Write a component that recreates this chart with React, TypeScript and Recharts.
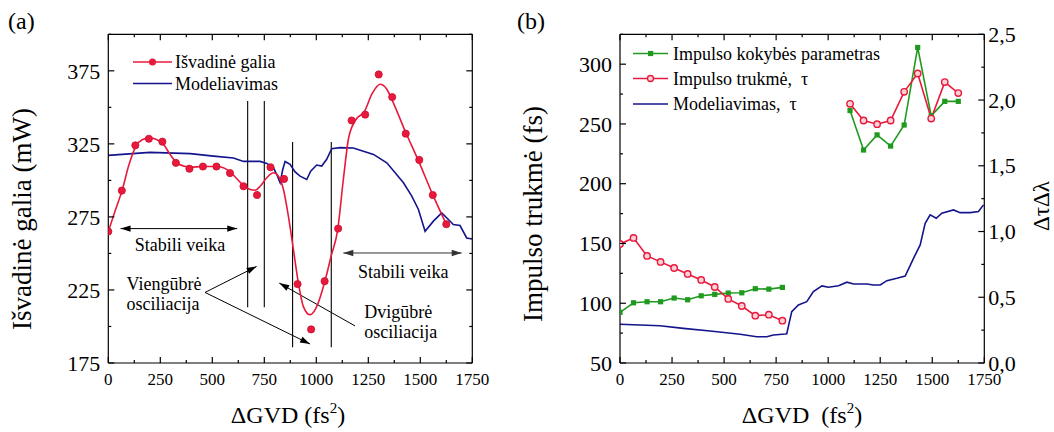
import React from 'react';
import { LineChart, Line, XAxis, YAxis, ReferenceLine, ReferenceDot } from 'recharts';

const FONT = '"Liberation Serif", "Times New Roman", Times, serif';
const RED = '#e8193c';
const BLUE = '#14148c';
const GREEN = '#1f9a1f';

// ---------- Panel (a) ----------
const gvdMeasured = [0, 65, 130, 195, 260, 325, 390, 455, 520, 585, 650, 715, 780, 845, 910, 975, 1040, 1105, 1170, 1235, 1300, 1365, 1430, 1495, 1560, 1625];
const powerMeasured = [265, 293, 324, 328.5, 326.5, 312, 308, 309.5, 309.5, 305, 296, 290, 309, 301, 229, 198, 231, 267, 341, 345, 372.5, 357, 332, 314, 290, 270];

const gvdFit = [0, 35, 66, 100, 133, 165, 200, 232, 265, 297, 330, 362, 394, 455, 520, 553, 585, 617, 650, 682, 706, 730, 762, 794, 818, 842, 866, 890, 914, 938, 970, 1002, 1039, 1071, 1103, 1130, 1154, 1186, 1233, 1267, 1307, 1339, 1363, 1427, 1492, 1556, 1622];
const powerFit = [265, 280, 293, 311, 323.5, 328, 329.2, 328, 324.7, 317.8, 312, 309.8, 309, 309.5, 309.5, 308.6, 305.9, 301.3, 296.5, 293.8, 293.3, 296, 301.8, 305.2, 302.9, 293.8, 275.4, 252.6, 229.7, 213.6, 208, 213.6, 229.7, 248, 266.3, 300.6, 328, 340.7, 347.5, 359, 365.8, 362.4, 355.5, 333.8, 313.2, 291.5, 270.9];

const gvdModelA = [0, 200, 394, 506, 602, 650, 730, 762, 794, 810, 826, 839, 850, 874, 898, 922, 954, 973, 1002, 1026, 1050, 1074, 1114, 1178, 1275, 1339, 1419, 1459, 1491, 1523, 1563, 1603, 1635, 1659, 1691, 1723, 1750];
const powerModelA = [317.1, 319.2, 318.3, 316.6, 315.3, 313, 313, 311.6, 308.6, 304, 298.4, 307.6, 312.9, 311, 305.8, 302.9, 300.6, 306.3, 310.5, 309.8, 314.4, 321.7, 322.4, 322.2, 317.8, 312, 298.4, 289.2, 280.1, 265.2, 272.1, 277.8, 273.2, 269.8, 269.1, 260.6, 259.9];

// ---------- Panel (b) ----------
const gvdShort = [0, 65, 130, 195, 260, 325, 390, 455, 520, 585, 650, 715, 780];
const gvdLong = [1105, 1170, 1235, 1300, 1365, 1430, 1495, 1560, 1625];
const qualityShort = [0.385, 0.458, 0.466, 0.466, 0.494, 0.481, 0.511, 0.522, 0.532, 0.534, 0.565, 0.562, 0.575];
const qualityLong = [1.92, 1.62, 1.735, 1.65, 1.81, 2.4, 1.88, 1.99, 1.99];
const durationShort = [149.6, 154.6, 139.6, 134.6, 129.5, 124.5, 119.5, 113.6, 103.6, 97.7, 89.6, 90.4, 85.4];
const durationLong = [266.8, 252.9, 249.8, 252.9, 276.9, 292.2, 254.5, 285, 275.8];
const gvdModelB = [0, 192, 304, 433, 577, 657, 705, 737, 793, 801, 825, 857, 897, 929, 970, 1001, 1050, 1090, 1122, 1186, 1218, 1250, 1282, 1330, 1370, 1410, 1442, 1466, 1490, 1519, 1546, 1602, 1634, 1682, 1722, 1746];
const durationModelB = [82.4, 81.2, 79, 76.8, 74, 72, 72, 73.4, 74.3, 74.5, 93, 98.6, 101.3, 109.7, 114.5, 113.4, 114.7, 117.6, 116.1, 116.1, 115.3, 115.3, 118.9, 120.9, 122.8, 137.6, 148.8, 166.9, 173.9, 171.1, 175.3, 178.1, 175.8, 175.8, 176.7, 182.3];

// ---------- ticks ----------
const xTicks = [0, 125, 250, 375, 500, 625, 750, 875, 1000, 1125, 1250, 1375, 1500, 1625, 1750];
const yTicksA = [175, 200, 225, 250, 275, 300, 325, 350, 375, 400];
const yTicksB = [50, 75, 100, 125, 150, 175, 200, 225, 250, 275, 300, 325];
const yTicksBR = [0, 0.25, 0.5, 0.75, 1, 1.25, 1.5, 1.75, 2, 2.25, 2.5];

const zip = (xs: number[], ys: number[]) => xs.map((x, i) => ({ x, y: ys[i] }));

type Side = 'left' | 'right' | 'top' | 'bottom';
function makeTick(side: Side, step: number, origin: number, fontSize: number, gap: number, fmt?: (v: number) => string) {
  return (props: any) => {
    const { x, y, payload } = props;
    const v = Number(payload.value);
    const k = (v - origin) / step;
    const major = Math.abs(k - Math.round(k)) < 1e-6;
    const len = major ? 6 : 3;
    const s = { stroke: '#000', strokeWidth: 1.2 };
    let line: any = null;
    let label: any = null;
    const tp = { fontFamily: FONT, fontSize, fill: '#000' };
    if (side === 'left') {
      line = <line x1={x} y1={y} x2={x + len} y2={y} {...s} />;
      if (major && fmt) label = <text x={x - gap} y={y} dy="0.35em" textAnchor="end" {...tp}>{fmt(v)}</text>;
    } else if (side === 'right') {
      line = <line x1={x} y1={y} x2={x - len} y2={y} {...s} />;
      if (major && fmt) label = <text x={x + gap} y={y} dy="0.35em" textAnchor="start" {...tp}>{fmt(v)}</text>;
    } else if (side === 'bottom') {
      line = <line x1={x} y1={y} x2={x} y2={y - len} {...s} />;
      if (major && fmt) label = <text x={x} y={y + gap} dy="0.71em" textAnchor="middle" {...tp}>{fmt(v)}</text>;
    } else {
      line = <line x1={x} y1={y} x2={x} y2={y + len} {...s} />;
    }
    return <g>{line}{label}</g>;
  };
}

const arrowShape = (both: boolean, color = '#000') => (p: any) => {
  const { x1, y1, x2, y2 } = p;
  const a = Math.atan2(y2 - y1, x2 - x1);
  const head = (hx: number, hy: number, ang: number) => {
    const L = 10, W = 3.2;
    const bx = hx - L * Math.cos(ang), by = hy - L * Math.sin(ang);
    const px = -Math.sin(ang) * W, py = Math.cos(ang) * W;
    return <polygon points={`${hx},${hy} ${bx + px},${by + py} ${bx - px},${by - py}`} fill={color} />;
  };
  return (
    <g>
      <line x1={x1} y1={y1} x2={x2} y2={y2} stroke={color} strokeWidth={1} />
      {head(x2, y2, a)}
      {both ? head(x1, y1, a + Math.PI) : null}
    </g>
  );
};

const textShape = (txt: string, anchor: 'start' | 'middle' | 'end', size = 18) => (p: any) => (
  <text x={p.cx} y={p.cy} textAnchor={anchor} fontFamily={FONT} fontSize={size} fill="#000">{txt}</text>
);

const axisLine = { stroke: '#000', strokeWidth: 1.2 };
const fmtInt = (v: number) => String(v);
const fmtComma = (v: number) => v.toFixed(1).replace('.', ',');

function PanelA() {
  return (
    <LineChart width={520} height={432} margin={{ top: 0, right: 0, bottom: 0, left: 0 }}>
      <XAxis xAxisId={0} type="number" dataKey="x" domain={[0, 1750]} ticks={xTicks} interval={0} allowDataOverflow
        tickLine={false} tickSize={0} tickMargin={0} height={69} axisLine={axisLine}
        tick={makeTick('bottom', 250, 0, 17, 10, fmtInt)} />
      <XAxis xAxisId="top" orientation="top" type="number" dataKey="x" domain={[0, 1750]} ticks={xTicks} interval={0} allowDataOverflow
        tickLine={false} tickSize={0} tickMargin={0} height={34.3} axisLine={axisLine}
        tick={makeTick('top', 250, 0, 17, 0)} />
      <YAxis yAxisId={0} type="number" domain={[175, 400]} ticks={yTicksA} interval={0} allowDataOverflow
        tickLine={false} tickSize={0} tickMargin={0} width={108.3} axisLine={axisLine}
        tick={makeTick('left', 50, 175, 22, 8, fmtInt)} />
      <YAxis yAxisId="r" orientation="right" type="number" domain={[175, 400]} ticks={yTicksA} interval={0} allowDataOverflow
        tickLine={false} tickSize={0} tickMargin={0} width={47.7} axisLine={axisLine}
        tick={makeTick('right', 50, 175, 22, 8)} />

      <ReferenceLine segment={[{ x: 670, y: 354.4 }, { x: 670, y: 213.2 }]} stroke="#000" strokeWidth={1.1} />
      <ReferenceLine segment={[{ x: 750, y: 354.4 }, { x: 750, y: 213.2 }]} stroke="#000" strokeWidth={1.1} />
      <ReferenceLine segment={[{ x: 886, y: 326.2 }, { x: 886, y: 185.8 }]} stroke="#000" strokeWidth={1.1} />
      <ReferenceLine segment={[{ x: 1072, y: 326.2 }, { x: 1072, y: 185.8 }]} stroke="#000" strokeWidth={1.1} />

      <ReferenceLine segment={[{ x: 59, y: 267 }, { x: 620, y: 267 }]} shape={arrowShape(true)} />
      <ReferenceLine segment={[{ x: 1130, y: 250.3 }, { x: 1699, y: 250.3 }]} shape={arrowShape(true, '#333')} />
      <ReferenceLine segment={[{ x: 465, y: 223.3 }, { x: 713, y: 241.1 }]} shape={arrowShape(false)} />
      <ReferenceLine segment={[{ x: 465, y: 223.3 }, { x: 970, y: 188 }]} shape={arrowShape(false)} />
      <ReferenceLine segment={[{ x: 1186, y: 200.4 }, { x: 822, y: 229.7 }]} shape={arrowShape(false)} />

      <ReferenceDot x={345} y={251.4} r={1} shape={textShape('Stabili veika', 'middle')} />
      <ReferenceDot x={1418} y={233} r={1} shape={textShape('Stabili veika', 'middle')} />
      <ReferenceDot x={88} y={225} r={1} shape={textShape('Viengūbrė', 'start')} />
      <ReferenceDot x={88} y={211.4} r={1} shape={textShape('osciliacija', 'start')} />
      <ReferenceDot x={1231} y={205.7} r={1} shape={textShape('Dvigūbrė', 'start')} />
      <ReferenceDot x={1231} y={192} r={1} shape={textShape('osciliacija', 'start')} />

      <Line data={zip(gvdModelA, powerModelA)} dataKey="y" type="linear" stroke={BLUE} strokeWidth={1.6} dot={false} isAnimationActive={false} />
      <Line data={zip(gvdFit, powerFit)} dataKey="y" type="monotone" stroke={RED} strokeWidth={1.6} dot={false} isAnimationActive={false} />
      <Line data={zip(gvdMeasured, powerMeasured)} dataKey="y" stroke="none" isAnimationActive={false}
        dot={{ r: 3.6, fill: RED, stroke: '#c8102e', strokeWidth: 0.8 }} />
    </LineChart>
  );
}

function PanelB() {
  return (
    <LineChart width={534} height={432} margin={{ top: 0, right: 0, bottom: 0, left: 0 }}>
      <XAxis xAxisId={0} type="number" dataKey="x" domain={[0, 1750]} ticks={xTicks} interval={0} allowDataOverflow
        tickLine={false} tickSize={0} tickMargin={0} height={69} axisLine={axisLine}
        tick={makeTick('bottom', 250, 0, 17, 10, fmtInt)} />
      <XAxis xAxisId="top" orientation="top" type="number" dataKey="x" domain={[0, 1750]} ticks={xTicks} interval={0} allowDataOverflow
        tickLine={false} tickSize={0} tickMargin={0} height={34.3} axisLine={axisLine}
        tick={makeTick('top', 250, 0, 17, 0)} />
      <YAxis yAxisId="L" type="number" domain={[50, 325]} ticks={yTicksB} interval={0} allowDataOverflow
        tickLine={false} tickSize={0} tickMargin={0} width={100} axisLine={axisLine}
        tick={makeTick('left', 50, 50, 22, 8, fmtInt)} />
      <YAxis yAxisId="R" orientation="right" type="number" domain={[0, 2.5]} ticks={yTicksBR} interval={0} allowDataOverflow
        tickLine={false} tickSize={0} tickMargin={0} width={69.7} axisLine={axisLine}
        tick={makeTick('right', 0.5, 0, 22, 4, fmtComma)} />

      <Line yAxisId="L" data={zip(gvdModelB, durationModelB)} dataKey="y" type="linear" stroke={BLUE} strokeWidth={1.6} dot={false} isAnimationActive={false} />
      <Line yAxisId="R" data={zip(gvdShort, qualityShort)} dataKey="y" type="linear" stroke={GREEN} strokeWidth={1.6} isAnimationActive={false}
        dot={(p: any) => <rect key={`gs${p.index}`} x={p.cx - 2.6} y={p.cy - 2.6} width={5.2} height={5.2} fill={GREEN} />} />
      <Line yAxisId="R" data={zip(gvdLong, qualityLong)} dataKey="y" type="linear" stroke={GREEN} strokeWidth={1.6} isAnimationActive={false}
        dot={(p: any) => <rect key={`gl${p.index}`} x={p.cx - 2.6} y={p.cy - 2.6} width={5.2} height={5.2} fill={GREEN} />} />
      <Line yAxisId="L" data={zip(gvdShort, durationShort)} dataKey="y" type="linear" stroke={RED} strokeWidth={1.6} isAnimationActive={false}
        dot={{ r: 3.2, fill: '#fbd0d6', stroke: RED, strokeWidth: 1.4 }} />
      <Line yAxisId="L" data={zip(gvdLong, durationLong)} dataKey="y" type="linear" stroke={RED} strokeWidth={1.6} isAnimationActive={false}
        dot={{ r: 3.2, fill: '#fbd0d6', stroke: RED, strokeWidth: 1.4 }} />
    </LineChart>
  );
}

function Overlay() {
  const t = { fontFamily: FONT, fill: '#000' };
  return (
    <svg width={1054} height={432} style={{ position: 'absolute', left: 0, top: 0, pointerEvents: 'none' }}>
      <text x={8} y={29} fontSize={24} {...t}>(a)</text>
      <text x={517} y={29} fontSize={24} {...t}>(b)</text>
      <text transform="translate(31,219) rotate(-90)" textAnchor="middle" fontSize={27} {...t}>Išvadinė galia (mW)</text>
      <text transform="translate(542,214) rotate(-90)" textAnchor="middle" fontSize={27} {...t}>Impulso trukmė (fs)</text>
      <text transform="translate(1049,206) rotate(-90)" textAnchor="middle" fontSize={23} {...t}>ΔτΔλ</text>
      <text x={288} y={423} textAnchor="middle" fontSize={24} {...t}>ΔGVD (fs<tspan dy={-10} fontSize={15}>2</tspan><tspan dy={10}>)</tspan></text>
      <text x={802} y={423} textAnchor="middle" fontSize={24} {...t}>ΔGVD{'\u00a0\u00a0'}(fs<tspan dy={-10} fontSize={15}>2</tspan><tspan dy={10}>)</tspan></text>

      {/* legend (a) */}
      <line x1={133} y1={62} x2={172} y2={62} stroke={RED} strokeWidth={1.6} />
      <circle cx={152.5} cy={62} r={3.5} fill={RED} />
      <text x={175} y={68} fontSize={18} {...t}>Išvadinė galia</text>
      <line x1={133} y1={83.5} x2={172} y2={83.5} stroke={BLUE} strokeWidth={1.6} />
      <text x={175} y={89.5} fontSize={18} {...t}>Modeliavimas</text>

      {/* legend (b) */}
      <line x1={633} y1={53.5} x2={668} y2={53.5} stroke={GREEN} strokeWidth={1.6} />
      <rect x={648} y={50.9} width={5.2} height={5.2} fill={GREEN} />
      <text x={673} y={59.5} fontSize={18} {...t}>Impulso kokybės parametras</text>
      <line x1={633} y1={78.5} x2={668} y2={78.5} stroke={RED} strokeWidth={1.6} />
      <circle cx={650.5} cy={78.5} r={3} fill="#fbd0d6" stroke={RED} strokeWidth={1.3} />
      <text x={673} y={84.5} fontSize={18} {...t}>Impulso trukmė,{'\u00a0\u00a0'}τ</text>
      <line x1={633} y1={104} x2={668} y2={104} stroke={BLUE} strokeWidth={1.6} />
      <text x={673} y={110} fontSize={18} {...t}>Modeliavimas,{'\u00a0\u00a0'}τ</text>
    </svg>
  );
}

export default function App() {
  return (
    <div style={{ position: 'absolute', left: 0, top: 0, width: 1054, height: 432, background: '#fff', fontFamily: FONT }}>
      <div style={{ position: 'absolute', left: 0, top: 0 }}>
        <PanelA />
      </div>
      <div style={{ position: 'absolute', left: 520, top: 0 }}>
        <PanelB />
      </div>
      <Overlay />
    </div>
  );
}
